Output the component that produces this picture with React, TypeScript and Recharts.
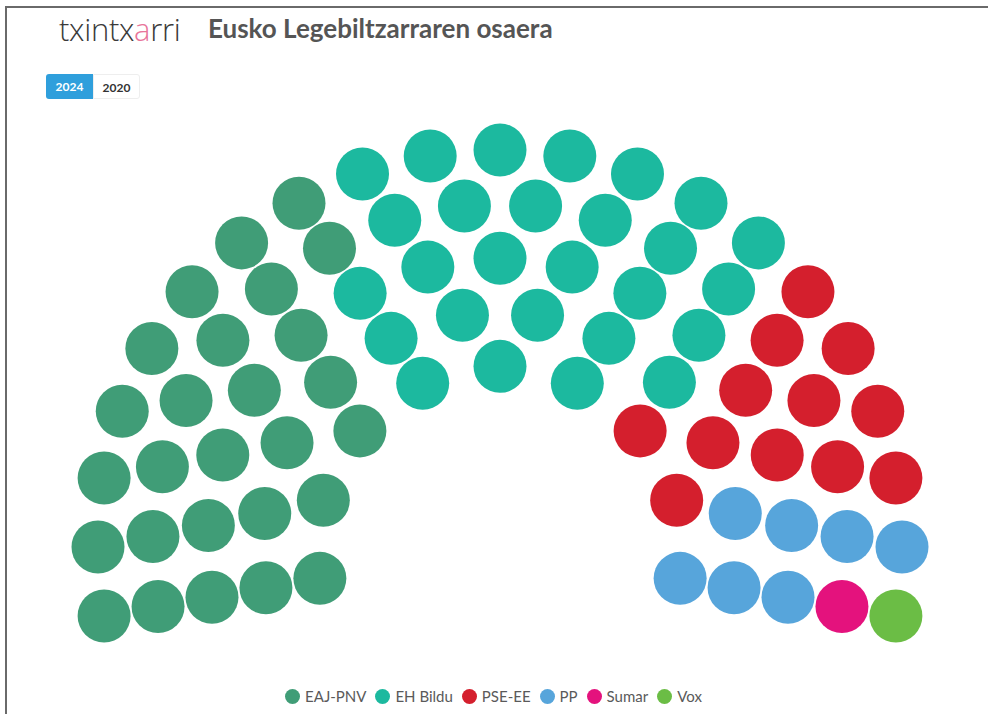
import { ScatterChart, Scatter, XAxis, YAxis } from 'recharts';

// Eusko Legebiltzarra 2024
const PARTIES = ['EAJ-PNV', 'EH Bildu', 'PSE-EE', 'PP', 'Sumar', 'Vox'];
const SEATS = [27, 27, 12, 7, 1, 1];
const COLORS = ['#409d77', '#1cb99f', '#d41f2d', '#57a5db', '#e4127d', '#6bbd45'];
const YEARS = ['2024', '2020'];

// hemicycle layout
const ROWS = 5;
const INNER = 0.455; // inner ring radius, outer ring = 1
const START_ANGLE = -100;
const END_ANGLE = 100;

const W = 988;
const H = 714;
const CX = 500;
const CY = 547;
const RX_PX = 402;
const RY_PX = 397;
const SEAT_R = 26.5;

type Seat = { x: number; y: number; party: string };

function buildSeats(): Seat[] {
  const total = SEATS.reduce((a, b) => a + b, 0);
  const radii = Array.from({ length: ROWS }, (_, i) => INNER + ((1 - INNER) * i) / (ROWS - 1));
  const sumR = radii.reduce((a, b) => a + b, 0);
  const counts = radii.map((r) => Math.round((total * r) / sumR));
  // fix rounding on outer row
  counts[ROWS - 1] += total - counts.reduce((a, b) => a + b, 0);

  const slots: { angle: number; r: number }[] = [];
  radii.forEach((r, i) => {
    const n = counts[i];
    for (let k = 0; k < n; k++) {
      const angle = START_ANGLE + ((END_ANGLE - START_ANGLE) * k) / (n - 1);
      slots.push({ angle, r });
    }
  });
  slots.sort((a, b) => (Math.abs(a.angle - b.angle) > 1e-9 ? a.angle - b.angle : a.r - b.r));

  const seats: Seat[] = [];
  let idx = 0;
  PARTIES.forEach((party, p) => {
    for (let k = 0; k < SEATS[p]; k++) {
      const s = slots[idx++];
      const rad = (s.angle * Math.PI) / 180;
      seats.push({ x: s.r * Math.sin(rad), y: s.r * Math.cos(rad), party });
    }
  });
  return seats;
}

const seats = buildSeats();

const xDomain = [-CX / RX_PX, (W - CX) / RX_PX];
const yDomain = [-(H - CY) / RY_PX, CY / RY_PX];

const SeatDot = (props: any) => (
  <circle cx={props.cx} cy={props.cy} r={SEAT_R} fill={props.fill} />
);

export default function App() {
  return (
    <div
      style={{
        position: 'absolute',
        left: 0,
        top: 0,
        width: W,
        height: H,
        background: '#fff',
        overflow: 'hidden',
        fontFamily: 'Lato, sans-serif',
      }}
    >
      {/* frame */}
      <div
        style={{
          position: 'absolute',
          left: 5,
          top: 6,
          width: W - 5,
          height: H - 6,
          borderTop: '2px solid #6a6a6a',
          borderLeft: '2px solid #6a6a6a',
        }}
      />

      <div style={{ position: 'absolute', left: 0, top: 0 }}>
        <ScatterChart width={W} height={H} margin={{ top: 0, right: 0, bottom: 0, left: 0 }}>
          <XAxis type="number" dataKey="x" domain={xDomain} hide allowDataOverflow />
          <YAxis type="number" dataKey="y" domain={yDomain} hide allowDataOverflow />
          {PARTIES.map((name, i) => (
            <Scatter
              key={name}
              name={name}
              data={seats.filter((s) => s.party === name)}
              fill={COLORS[i]}
              shape={SeatDot}
              isAnimationActive={false}
            />
          ))}
        </ScatterChart>
      </div>

      {/* logo + title */}
      <div
        style={{
          position: 'absolute',
          left: 59,
          top: 8,
          fontFamily: '"Open Sans", sans-serif',
          fontWeight: 300,
          fontSize: 31,
          color: '#3a3a3a',
          letterSpacing: -0.3,
        }}
      >
        txintx<span style={{ color: '#e8749a' }}>a</span>rri
      </div>
      <div
        style={{
          position: 'absolute',
          left: 208,
          top: 12,
          fontWeight: 700,
          fontSize: 26,
          color: '#555',
        }}
      >
        Eusko Legebiltzarraren osaera
      </div>

      {/* year buttons */}
      <div style={{ position: 'absolute', left: 46, top: 74, display: 'flex' }}>
        {YEARS.map((y, i) => (
          <div
            key={y}
            style={{
              width: 47,
              height: 25,
              lineHeight: '25px',
              textAlign: 'center',
              fontSize: 12,
              fontWeight: 700,
              color: i === 0 ? '#fff' : '#333',
              background: i === 0 ? '#2f9fdc' : '#fff',
              border: i === 0 ? 'none' : '1px solid #eee',
              borderRadius: i === 0 ? '3px 0 0 3px' : '0 3px 3px 0',
              boxSizing: 'border-box',
            }}
          >
            {y}
          </div>
        ))}
      </div>

      {/* legend */}
      <div
        style={{
          position: 'absolute',
          left: 0,
          width: W,
          top: 687,
          display: 'flex',
          justifyContent: 'center',
          paddingLeft: 4,
          fontSize: 15,
          color: '#5a5a5a',
        }}
      >
        {PARTIES.map((name, i) => (
          <div key={name} style={{ display: 'flex', alignItems: 'center', marginRight: 9 }}>
            <span
              style={{
                width: 15,
                height: 15,
                borderRadius: '50%',
                background: COLORS[i],
                marginRight: 5,
                display: 'inline-block',
              }}
            />
            {name}
          </div>
        ))}
      </div>
    </div>
  );
}
